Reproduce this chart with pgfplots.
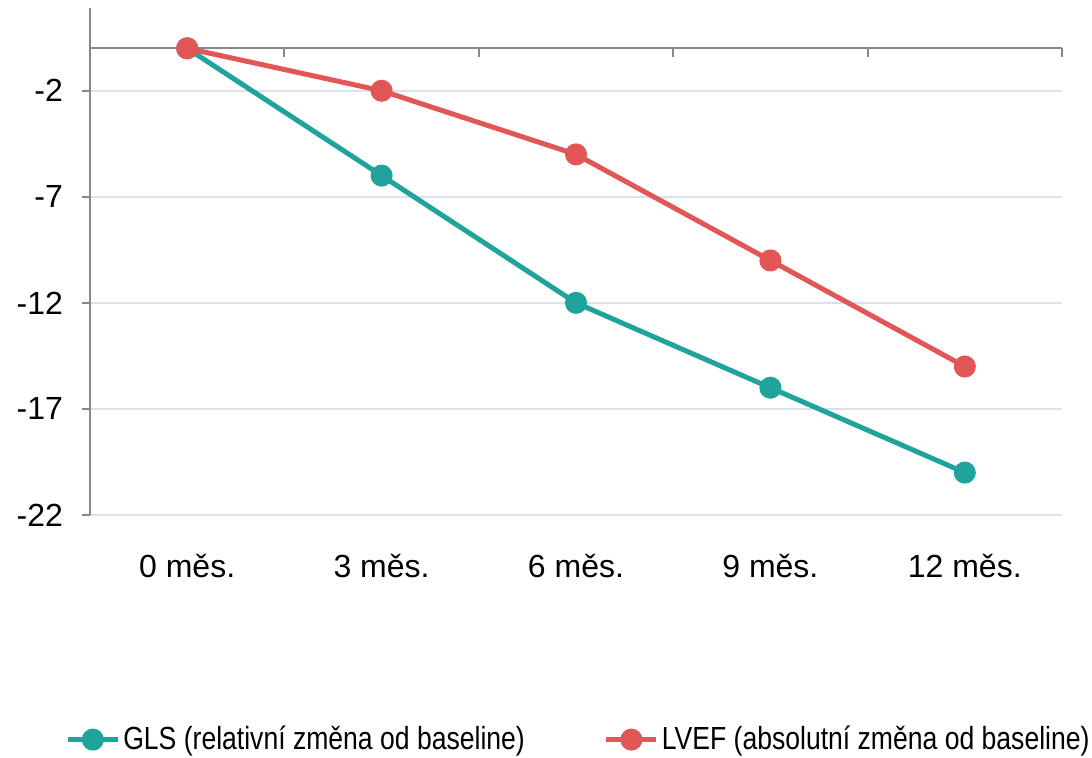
\documentclass[border=0pt]{standalone}
\usepackage{fontspec}
\setmainfont{Liberation Sans}
\newfontfamily\legfont[FakeStretch=0.83]{Liberation Sans}
\usepackage{pgfplots}
\pgfplotsset{compat=1.18}
\definecolor{gls}{RGB}{31,163,154}
\definecolor{lvef}{RGB}{226,86,86}
\definecolor{axgray}{RGB}{136,136,136}
\definecolor{gridc}{RGB}{217,225,236}
\begin{document}
\begin{tikzpicture}[x=1pt,y=1pt]
\path[use as bounding box] (-45,-121) rectangle (501,257.5);
\begin{axis}[
  at={(0,0)}, anchor=south west,
  width=486pt, height=253.5pt, scale only axis,
  xmin=-0.5, xmax=4.5, ymin=-22, ymax=1.9,
  clip=false,
  axis x line=bottom, axis y line=left,
  x axis line style={draw=none},
  y axis line style={axgray, line width=1pt, -},
  xtick={0,1,2,3,4},
  xticklabels={0 měs.,3 měs.,6 měs.,9 měs.,12 měs.},
  x tick style={draw=none},
  xticklabel style={yshift=-12pt},
  ytick={-22,-17,-12,-7,-2},
  yticklabels={-22,-17,-12,-7,-2},
  yticklabel style={xshift=-6pt},
  tick align=outside,
  y tick style={axgray, line width=1pt},
  major tick length=4pt,
  ymajorgrids,
  grid style={gridc, line width=1pt},
  extra y ticks={0}, extra y tick labels={},
  extra y tick style={major tick length=0pt, grid=major, major grid style={axgray, line width=1pt}},
  tick label style={font=\fontsize{16}{19}\selectfont},
  legend style={at={(0.503,-0.443)}, anchor=center, draw=none, fill=none,
    font=\legfont\fontsize{16}{19}\selectfont,
    nodes={inner xsep=1.5pt, inner ysep=0pt},
    /tikz/every even column/.append style={column sep=38pt}},
  legend columns=2,
  legend cell align=left,
  legend image code/.code={\draw[mark repeat=2,mark phase=2] plot coordinates {(0pt,0pt) (12.5pt,0pt) (25pt,0pt)};},
]
\addplot[gls, line width=2.5pt, mark=*, mark size=4.25pt] coordinates {(0,0) (1,-6) (2,-12) (3,-16) (4,-20)};
\addlegendentry{GLS (relativní změna od baseline)}
\addplot[lvef, line width=2.5pt, mark=*, mark size=4.25pt] coordinates {(0,0) (1,-2) (2,-5) (3,-10) (4,-15)};
\addlegendentry{LVEF (absolutní změna od baseline)}
\pgfplotsinvokeforeach{0.5,1.5,2.5,3.5,4.5}{\draw[axgray, line width=1pt] (axis cs:#1,0) -- ([yshift=-4.5pt]axis cs:#1,0);}
\end{axis}
\end{tikzpicture}
\end{document}
